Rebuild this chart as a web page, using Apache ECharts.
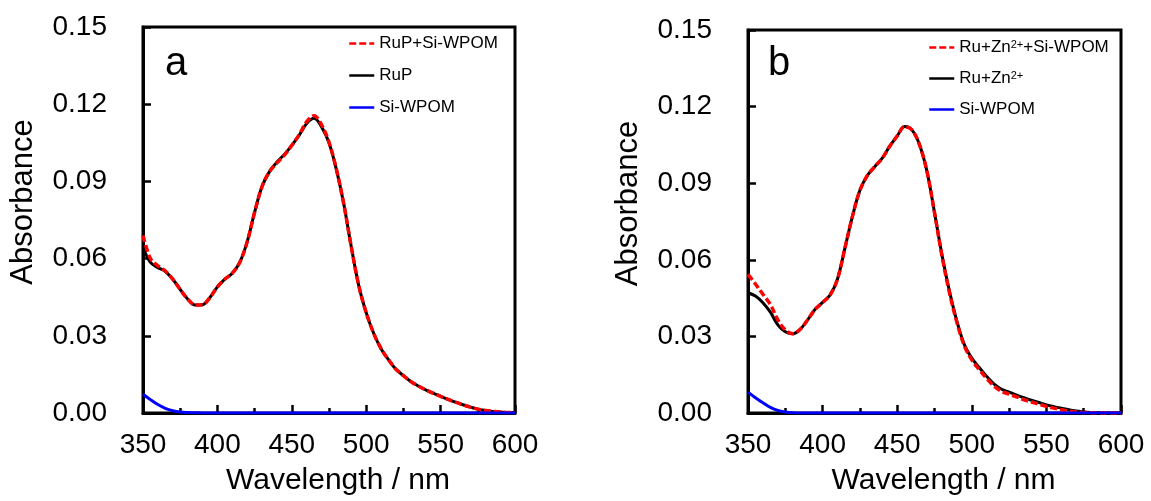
<!DOCTYPE html>
<html>
<head>
<meta charset="utf-8">
<script src="https://cdn.jsdelivr.net/npm/echarts@6/dist/echarts.min.js"></script>
<style>
html,body{margin:0;padding:0;background:#fff;}
#chart{width:1151px;height:501px;}
</style>
</head>
<body>
<div id="chart"></div>
<script>
// Wavelength grid (nm)
const wavelengths = [350,355,360,365,370,375,380,385,390,395,400,405,410,415,420,425,430,435,440,445,450,455,460,465,470,475,480,485,490,495,500,505,510,515,520,525,530,535,540,545,550,555,560,565,570,575,580,585,590,595,600];

// Panel a
const rupSiWpomA = [0.0690,0.0600,0.0572,0.0552,0.0520,0.0480,0.0443,0.0420,0.0421,0.0449,0.0490,0.0520,0.0543,0.0585,0.0665,0.0780,0.0880,0.0938,0.0972,0.1002,0.1040,0.1082,0.1132,0.1155,0.1120,0.1052,0.0947,0.0810,0.0645,0.0495,0.0390,0.0310,0.0250,0.0207,0.0170,0.0145,0.0122,0.0105,0.0090,0.0077,0.0065,0.0053,0.0042,0.0032,0.0023,0.0015,0.0010,0.0006,0.0004,0.0002,0.0001];
const rupA       = [0.0644,0.0585,0.0565,0.0550,0.0520,0.0480,0.0443,0.0420,0.0421,0.0449,0.0490,0.0520,0.0543,0.0585,0.0665,0.0780,0.0880,0.0938,0.0975,0.1005,0.1040,0.1080,0.1125,0.1145,0.1112,0.1050,0.0945,0.0810,0.0645,0.0495,0.0390,0.0310,0.0250,0.0207,0.0170,0.0145,0.0122,0.0105,0.0090,0.0077,0.0065,0.0053,0.0042,0.0032,0.0023,0.0015,0.0010,0.0006,0.0004,0.0002,0.0001];
const siWpomA    = [0.0073,0.0052,0.0033,0.0018,0.0009,0.0004,0.0002,0.0001,0,0,0,0,0,0,0,0,0,0,0,0,0,0,0,0,0,0,0,0,0,0,0,0,0,0,0,0,0,0,0,0,0,0,0,0,0,0,0,0,0,0,0];

// Panel b
const ruZnSiWpomB = [0.0543,0.0505,0.0465,0.0425,0.0365,0.0325,0.0310,0.0328,0.0365,0.0406,0.0433,0.0462,0.0525,0.0647,0.0770,0.0872,0.0930,0.0965,0.0998,0.1045,0.1085,0.1122,0.1108,0.1050,0.0945,0.0785,0.0615,0.0472,0.0355,0.0263,0.0208,0.0170,0.0135,0.0105,0.0085,0.0074,0.0063,0.0052,0.0043,0.0034,0.0026,0.0019,0.0013,0.0008,0.0004,0.0002,0.0001,0,0,0,0];
const ruZnB       = [0.0471,0.0458,0.0432,0.0395,0.0345,0.0318,0.0310,0.0328,0.0365,0.0406,0.0433,0.0462,0.0525,0.0647,0.0770,0.0872,0.0930,0.0965,0.0998,0.1045,0.1085,0.1122,0.1108,0.1050,0.0945,0.0785,0.0620,0.0478,0.0360,0.0268,0.0215,0.0178,0.0143,0.0113,0.0093,0.0082,0.0070,0.0060,0.0050,0.0041,0.0032,0.0025,0.0019,0.0013,0.0008,0.0004,0.0002,0.0001,0,0,0];
const siWpomB     = [0.0082,0.0060,0.0040,0.0022,0.0010,0.0004,0.0001,0,0,0,0,0,0,0,0,0,0,0,0,0,0,0,0,0,0,0,0,0,0,0,0,0,0,0,0,0,0,0,0,0,0,0,0,0,0,0,0,0,0,0,0];

const seriesNames = {
  a: ['RuP+Si-WPOM', 'RuP', 'Si-WPOM'],
  b: ['Ru+Zn2++Si-WPOM', 'Ru+Zn2+', 'Si-WPOM ']
};
const panelLetters = ['a', 'b'];
const yTicks = {min: 0, max: 0.15, interval: 0.03};
const xTicks = {min: 350, max: 600, interval: 50};

const zip = (xs, ys) => xs.map((x, i) => [x, ys[i]]);
const FONT = '"Liberation Sans", Arial, Helvetica, sans-serif';

function xAxisCfg(gi) {
  return {
    type: 'value', gridIndex: gi, min: xTicks.min, max: xTicks.max, interval: xTicks.interval,
    name: 'Wavelength / nm', nameLocation: 'middle', nameGap: 53,
    nameTextStyle: {fontSize: 30, color: '#000', fontFamily: FONT, padding: [0, 0, 0, 18]},
    axisLine: {show: true, lineStyle: {color: '#000', width: 3}},
    axisTick: {show: true, inside: true, length: 8, lineStyle: {color: '#000', width: 2.5}},
    minorTick: {show: true, splitNumber: 2, length: 5, lineStyle: {color: '#000', width: 2.5}},
    axisLabel: {fontSize: 28, color: '#000', fontFamily: FONT, margin: 18},
    splitLine: {show: false}
  };
}
function yAxisCfg(gi) {
  return {
    type: 'value', gridIndex: gi, min: yTicks.min, max: yTicks.max, interval: yTicks.interval,
    name: 'Absorbance', nameLocation: 'middle', nameGap: 104,
    nameTextStyle: {fontSize: 31, color: '#000', fontFamily: FONT, padding: [0, 0, 0, 36]},
    axisLine: {show: true, lineStyle: {color: '#000', width: 3}},
    axisTick: {show: true, inside: true, length: 8, lineStyle: {color: '#000', width: 2.5}},
    axisLabel: {fontSize: 28, color: '#000', fontFamily: FONT, margin: 36, formatter: v => v.toFixed(2)},
    splitLine: {show: false}
  };
}
function lineSeries(name, gi, data, color, width, dashed, z) {
  return {
    type: 'line', name: name, xAxisIndex: gi, yAxisIndex: gi,
    data: data, showSymbol: false, symbol: 'none', smooth: 0.35, z: z,
    lineStyle: {color: color, width: width, type: dashed ? [7, 3] : 'solid'},
    itemStyle: {color: color}
  };
}

const richSup = {
  base: {fontSize: 17, color: '#000', fontFamily: FONT},
  sup: {fontSize: 11, color: '#000', fontFamily: FONT, verticalAlign: 'top', lineHeight: 11}
};
function legendFormatter(name) {
  const n = name.trim();
  if (n.indexOf('Zn2+') >= 0) {
    const parts = n.split('Zn2+');
    return '{base|' + parts[0] + 'Zn}{sup|2+}{base|' + parts[1] + '}';
  }
  return '{base|' + n + '}';
}

const option = {
  animation: false,
  backgroundColor: '#fff',
  textStyle: {fontFamily: FONT},
  title: [
    {text: panelLetters[0], left: 160, top: 39, textStyle: {fontSize: 40, fontWeight: 'normal', color: '#000', fontFamily: FONT}},
    {text: panelLetters[1], left: 763, top: 39, textStyle: {fontSize: 40, fontWeight: 'normal', color: '#000', fontFamily: FONT}}
  ],
  grid: [
    {left: 143, top: 27, width: 372, height: 386, show: true, borderColor: '#000', borderWidth: 3, backgroundColor: 'transparent'},
    {left: 748, top: 30, width: 373, height: 387, show: true, borderColor: '#000', borderWidth: 3, backgroundColor: 'transparent'}
  ],
  xAxis: [xAxisCfg(0), xAxisCfg(1)],
  yAxis: [yAxisCfg(0), yAxisCfg(1)],
  legend: [
    {data: seriesNames.a, orient: 'vertical', left: 343, top: 30, itemWidth: 25, itemHeight: 14, itemGap: 15,
     itemStyle: {opacity: 0}, lineStyle: {width: 2.5}, formatter: legendFormatter, textStyle: {rich: richSup, fontSize: 17}, selectedMode: false},
    {data: seriesNames.b, orient: 'vertical', left: 923, top: 34, itemWidth: 25, itemHeight: 14, itemGap: 14,
     itemStyle: {opacity: 0}, lineStyle: {width: 2.5}, formatter: legendFormatter, textStyle: {rich: richSup, fontSize: 17}, selectedMode: false}
  ],
  series: [
    lineSeries(seriesNames.a[1], 0, zip(wavelengths, rupA), '#000000', 3, false, 2),
    lineSeries(seriesNames.a[0], 0, zip(wavelengths, rupSiWpomA), '#ff0000', 3.5, true, 3),
    lineSeries(seriesNames.a[2], 0, zip(wavelengths, siWpomA), '#0000ff', 3, false, 4),
    lineSeries(seriesNames.b[1], 1, zip(wavelengths, ruZnB), '#000000', 3, false, 2),
    lineSeries(seriesNames.b[0], 1, zip(wavelengths, ruZnSiWpomB), '#ff0000', 3.5, true, 3),
    lineSeries(seriesNames.b[2], 1, zip(wavelengths, siWpomB), '#0000ff', 3, false, 4)
  ]
};

const chart = echarts.init(document.getElementById('chart'), null, {renderer: 'canvas'});
chart.setOption(option);
</script>
</body>
</html>
